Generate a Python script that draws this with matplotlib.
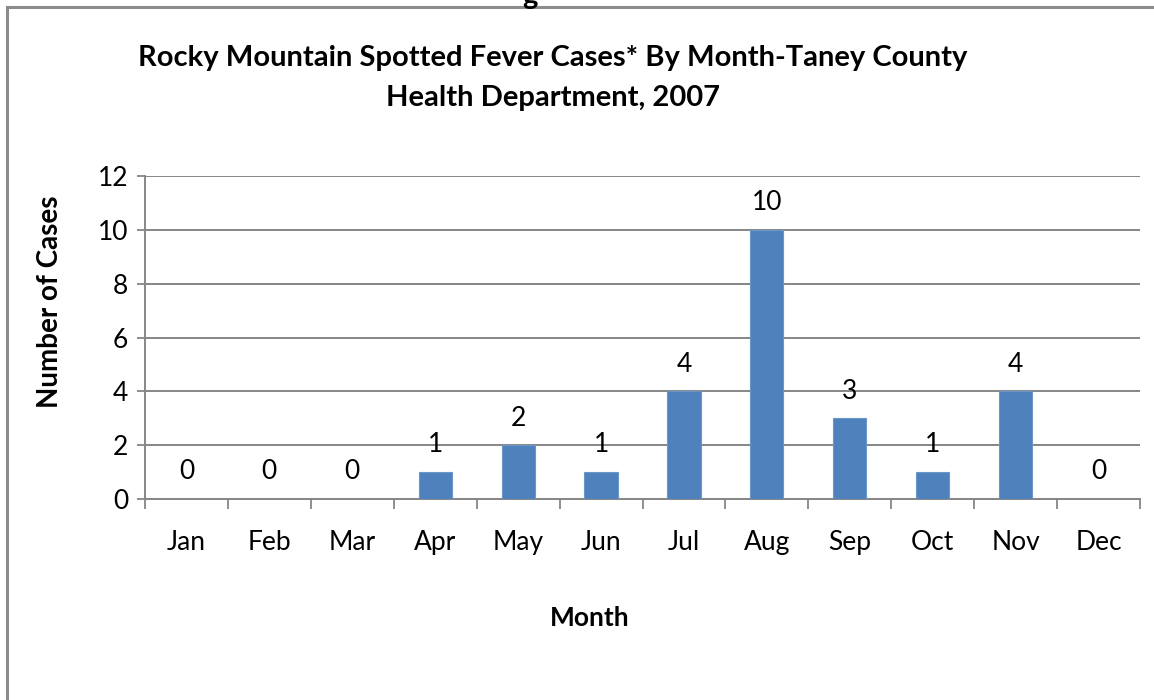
import numpy as np
import matplotlib
matplotlib.use("Agg")
import matplotlib.pyplot as plt

# data
months = ["Jan", "Feb", "Mar", "Apr", "May", "Jun",
          "Jul", "Aug", "Sep", "Oct", "Nov", "Dec"]
cases = [0, 0, 0, 1, 2, 1, 4, 10, 3, 1, 4, 0]
y_ticks = [0, 2, 4, 6, 8, 10, 12]

title = "Rocky Mountain Spotted Fever Cases* By Month-Taney County\nHealth Department, 2007"

plt.rcParams['font.family'] = ['Lato', 'DejaVu Sans']

fig = plt.figure(figsize=(11.54, 7), dpi=100)
ax = fig.add_axes([145/1154, 1 - 499/700, (1140 - 145)/1154, (499 - 176)/700])

grey = "#868686"
x = np.arange(len(months))
ax.bar(x, cases, width=0.4, color="#4F81BD", edgecolor="#6A96C8", linewidth=0.8, zorder=3)

for xi, v in zip(x, cases):
    ax.annotate(str(v), (xi, v), xytext=(0, 19.5), textcoords="offset points",
                ha="center", va="center", fontsize=19)

ax.set_xlim(-0.5, len(months) - 0.5)
ax.set_ylim(0, 12)
ax.set_yticks(y_ticks)
ax.tick_params(axis="y", labelsize=19, length=6, width=1.3, color=grey, pad=6)
ax.yaxis.grid(True, color=grey, linewidth=1.4, zorder=0)
ax.set_axisbelow(True)

# month labels centred, tick marks on category boundaries
ax.set_xticks(x)
ax.set_xticklabels(months, fontsize=19)
ax.tick_params(axis="x", length=0, pad=22)
ax.set_xticks(np.arange(-0.5, len(months), 1.0), minor=True)
ax.tick_params(axis="x", which="minor", length=7, width=1.3, color=grey)

for s in ["top", "right"]:
    ax.spines[s].set_visible(False)
for s in ["left", "bottom"]:
    ax.spines[s].set_color(grey)
    ax.spines[s].set_linewidth(1.4)

fig.text(553/1154, 1 - 78/700, title, ha="center", va="center",
         fontsize=21, fontweight="bold", linespacing=1.65)
fig.text(590/1154, 1 - 618/700, "Month", ha="center", va="center",
         fontsize=19, fontweight="bold")
fig.text(50/1154, 1 - 302/700, "Number of Cases", ha="center", va="center",
         rotation=90, fontsize=20, fontweight="bold")

# chart border (left and top only, rest cropped)
fig.add_artist(plt.Line2D([7/1154, 7/1154], [0, 1 - 7/700], transform=fig.transFigure,
                          color="#8C8C8C", linewidth=2.2))
fig.add_artist(plt.Line2D([7/1154, 1], [1 - 7/700, 1 - 7/700], transform=fig.transFigure,
                          color="#8C8C8C", linewidth=2.2))
# cropped text piece at the very top
fig.text(530/1154, 1 - 4/700, "g", ha="center", va="baseline",
         fontsize=21, fontweight="bold")

fig.savefig("out.png", dpi=100, facecolor="white")
